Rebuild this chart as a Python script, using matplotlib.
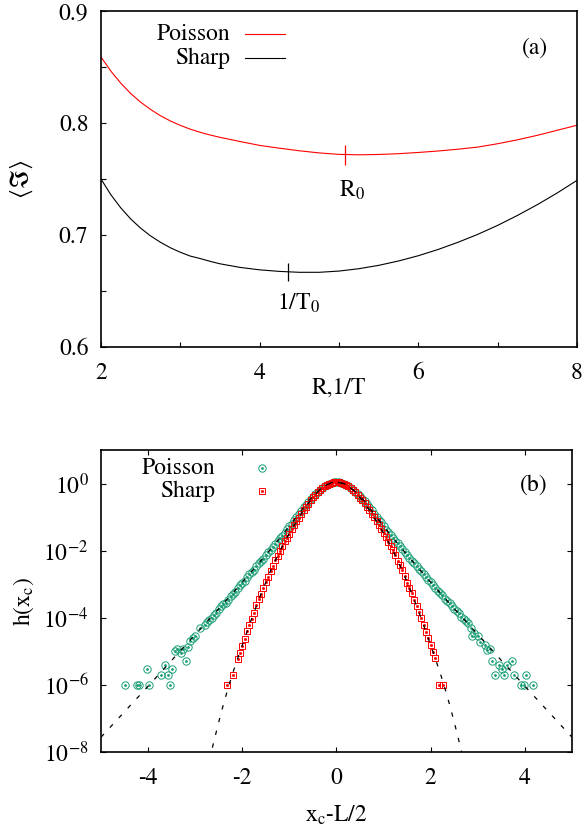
import numpy as np
import matplotlib
matplotlib.use("Agg")
import matplotlib.pyplot as plt
from matplotlib.ticker import MultipleLocator, FixedLocator, FuncFormatter, NullLocator

plt.rcParams['font.family'] = ['STIXGeneral', 'DejaVu Serif']
plt.rcParams['mathtext.fontset'] = 'stix'
plt.rcParams['axes.unicode_minus'] = False
plt.rcParams['font.size'] = 17

# ---- panel (a): mean value vs R (Poisson) and 1/T (sharp) ----
r_vals = [2.0, 2.125, 2.25, 2.375, 2.5, 2.625, 2.75, 2.875, 3.0, 3.125, 3.25, 3.375, 3.5,
          3.75, 4.0, 4.25, 4.5, 4.75, 5.0, 5.25, 5.5, 5.75, 6.0, 6.25, 6.5, 6.75,
          7.0, 7.25, 7.5, 7.75, 8.0]
poisson_avg = [0.859, 0.8463, 0.8355, 0.8263, 0.8186, 0.8121, 0.8065, 0.8018, 0.7979,
               0.7945, 0.7917, 0.7893, 0.7872, 0.7835, 0.7800, 0.7775, 0.7752, 0.7733,
               0.7720, 0.7716, 0.7719, 0.7726, 0.7737, 0.7750, 0.7766, 0.7785, 0.7815,
               0.7850, 0.7890, 0.7935, 0.7980]
sharp_avg = [0.750, 0.7359, 0.7242, 0.7143, 0.7061, 0.6992, 0.6935, 0.6886, 0.6846,
             0.6812, 0.6790, 0.6765, 0.6743, 0.6711, 0.6689, 0.6675, 0.6667, 0.6667,
             0.6678, 0.6699, 0.6729, 0.6768, 0.6815, 0.6871, 0.6935, 0.7006, 0.7086,
             0.7175, 0.7271, 0.7375, 0.7488]
r0, r0_val = 5.08, 0.7716
inv_t0, inv_t0_val = 4.36, 0.667

# ---- panel (b): distribution h(x_c), stored as log10 values ----
pois_x = [-4.49, -4.24, -4.19, -4.03, -3.98, -3.73, -3.64, -3.57, -3.53, -3.49,
          -3.43, -3.38, -3.30, -3.25, -3.20, -3.15, -3.10, -3.05, -3.00, -2.90,
          -2.8, -2.7, -2.6, -2.5, -2.4, -2.3, -2.2, -2.1, -2.0, -1.9,
          -1.8, -1.7, -1.6, -1.5, -1.4, -1.3, -1.2, -1.1, -1.0, -0.9,
          -0.8, -0.7, -0.6, -0.5, -0.4, -0.3, -0.2, -0.1, 0.0, 0.1,
          0.2, 0.3, 0.4, 0.5, 0.6, 0.7, 0.8, 0.9, 1.0, 1.1,
          1.2, 1.3, 1.4, 1.5, 1.6, 1.7, 1.8, 1.9, 2.0, 2.1,
          2.2, 2.3, 2.4, 2.5, 2.6, 2.7, 2.8, 2.85, 2.87, 2.92,
          3.00, 3.05, 3.15, 3.20, 3.25, 3.31, 3.37, 3.44, 3.51, 3.56,
          3.61, 3.72, 3.77, 3.92, 3.98, 4.02, 4.17]
pois_logh = [-6.00, -6.00, -6.00, -5.52, -6.00, -5.70, -5.40, -5.70, -6.00, -5.52,
             -5.00, -4.92, -5.05, -4.92, -5.30, -4.88, -4.70, -4.60, -4.55, -4.32,
             -4.22, -4.08, -3.93, -3.75, -3.60, -3.46, -3.30, -3.12, -2.97, -2.80,
             -2.64, -2.47, -2.31, -2.14, -1.97, -1.80, -1.63, -1.46, -1.28, -1.10,
             -0.92, -0.71, -0.54, -0.39, -0.25, -0.13, -0.04, 0.02, 0.05, 0.03,
             -0.03, -0.12, -0.24, -0.38, -0.53, -0.70, -0.90, -1.08, -1.26, -1.45,
             -1.62, -1.78, -1.95, -2.12, -2.30, -2.45, -2.61, -2.79, -2.93, -3.11,
             -3.25, -3.43, -3.56, -3.74, -3.86, -4.05, -4.17, -4.30, -4.55, -4.45,
             -4.55, -4.72, -4.82, -4.96, -4.92, -5.30, -5.70, -5.40, -5.52, -5.70,
             -5.40, -5.30, -5.70, -6.00, -6.00, -5.70, -6.00]
# bins lying between the ones above
pois_x_mid = [-2.75, -2.65, -2.55, -2.45, -2.35, -2.25, -2.15, -2.05, -1.95, -1.85,
              -1.75, -1.65, -1.55, -1.45, -1.35, -1.25, -1.15, -1.05, -0.95, -0.85,
              -0.75, -0.65, -0.55, -0.45, -0.35, -0.25, -0.15, -0.05, 0.05, 0.15,
              0.25, 0.35, 0.45, 0.55, 0.65, 0.75, 0.85, 0.95, 1.05, 1.15,
              1.25, 1.35, 1.45, 1.55, 1.65, 1.75, 1.85, 1.95, 2.05, 2.15,
              2.25, 2.35, 2.45, 2.55, 2.65, 2.75]
pois_logh_mid = [-4.13, -4.00, -3.85, -3.66, -3.55, -3.36, -3.22, -3.03, -2.90, -2.71,
                 -2.57, -2.38, -2.24, -2.05, -1.90, -1.71, -1.55, -1.36, -1.20, -1.00,
                 -0.82, -0.63, -0.46, -0.32, -0.19, -0.08, -0.01, 0.04, 0.05, 0.00,
                 -0.07, -0.18, -0.31, -0.45, -0.62, -0.80, -0.99, -1.16, -1.37, -1.53,
                 -1.71, -1.86, -2.04, -2.22, -2.37, -2.54, -2.69, -2.87, -3.01, -3.20,
                 -3.33, -3.50, -3.66, -3.80, -3.97, -4.10]

sharp_x = [-2.33, -2.2, -2.1, -2.0, -1.9, -1.8, -1.7, -1.6, -1.5, -1.4,
           -1.3, -1.2, -1.1, -1.0, -0.9, -0.8, -0.7, -0.6, -0.5, -0.4,
           -0.3, -0.2, -0.1, 0.0, 0.1, 0.2, 0.3, 0.4, 0.5, 0.6,
           0.7, 0.8, 0.9, 1.0, 1.1, 1.2, 1.3, 1.4, 1.5, 1.6,
           1.7, 1.8, 1.9, 2.0, 2.1, 2.18, 2.27]
sharp_logh = [-6.00, -5.70, -5.22, -4.85, -4.40, -4.05, -3.62, -3.30, -2.92, -2.62,
              -2.28, -2.01, -1.72, -1.49, -1.23, -1.02, -0.78, -0.60, -0.40, -0.26,
              -0.12, -0.04, 0.03, 0.05, 0.02, -0.03, -0.13, -0.25, -0.42, -0.58,
              -0.80, -1.00, -1.25, -1.47, -1.74, -1.99, -2.30, -2.59, -2.95, -3.26,
              -3.66, -4.00, -4.43, -4.80, -5.20, -6.00, -6.00]
sharp_x_mid = [-2.05, -1.95, -1.85, -1.75, -1.65, -1.55, -1.45, -1.35, -1.25, -1.15,
               -1.05, -0.95, -0.85, -0.75, -0.65, -0.55, -0.45, -0.35, -0.25, -0.15,
               -0.05, 0.05, 0.15, 0.25, 0.35, 0.45, 0.55, 0.65, 0.75, 0.85,
               0.95, 1.05, 1.15, 1.25, 1.35, 1.45, 1.55, 1.65, 1.75, 1.85,
               1.95, 2.05]
sharp_logh_mid = [-5.05, -4.62, -4.22, -3.85, -3.45, -3.11, -2.78, -2.45, -2.15, -1.86,
                  -1.61, -1.36, -1.12, -0.90, -0.69, -0.50, -0.33, -0.19, -0.08, 0.00,
                  0.05, 0.04, -0.01, -0.08, -0.18, -0.34, -0.50, -0.70, -0.90, -1.13,
                  -1.36, -1.60, -1.87, -2.14, -2.44, -2.77, -3.10, -3.47, -3.83, -4.22,
                  -4.60, -5.02]

pois_fit_x = [-5.0, -4.5, -4.0, -3.5, -3.0, -2.5, -2.0, -1.5, -1.2, -1.0, -0.8, -0.6,
              -0.5, -0.4, -0.3, -0.2, -0.1, 0.0, 0.1, 0.2, 0.3, 0.4, 0.5, 0.6,
              0.8, 1.0, 1.2, 1.5, 2.0, 2.5, 3.0, 3.5, 4.0, 4.5, 5.0]
pois_fit_logh = [-7.56, -6.80, -6.04, -5.27, -4.50, -3.73, -2.94, -2.13, -1.62, -1.27,
                 -0.91, -0.53, -0.38, -0.24, -0.12, -0.03, 0.03, 0.05, 0.03, -0.03,
                 -0.12, -0.24, -0.38, -0.53, -0.91, -1.27, -1.62, -2.13, -2.94, -3.73,
                 -4.50, -5.27, -6.04, -6.80, -7.56]
sharp_fit_x = [-2.7, -2.6, -2.5, -2.4, -2.3, -2.2, -2.1, -2.0, -1.8, -1.6, -1.4, -1.2,
               -1.0, -0.8, -0.6, -0.4, -0.2, 0.0, 0.2, 0.4, 0.6, 0.8, 1.0, 1.2,
               1.4, 1.6, 1.8, 2.0, 2.1, 2.2, 2.3, 2.4, 2.5, 2.6, 2.7]
sharp_fit_logh = [-8.25, -7.67, -7.11, -6.58, -6.09, -5.64, -5.22, -4.82, -4.02, -3.28,
                  -2.60, -2.00, -1.48, -1.01, -0.59, -0.25, -0.03, 0.05, -0.03, -0.25,
                  -0.59, -1.01, -1.48, -2.00, -2.60, -3.28, -4.02, -4.82, -5.22, -5.64,
                  -6.09, -6.58, -7.11, -7.67, -8.25]

GREEN = '#1b9e77'
RED = '#ff0000'
FS = 17


def style_axes(ax, mirror):
    for sp in ax.spines.values():
        sp.set_linewidth(1.2)
    ax.tick_params(which='both', direction='in', length=3.6, width=0.8,
                   top=mirror, right=mirror, labelsize=FS)
    ax.tick_params(axis='y', pad=9)
    ax.tick_params(axis='x', pad=11)


def open_points(ax, x, y, marker, ms, color, **kw):
    # gnuplot draws open symbols with a small dot in the middle
    ax.plot(x, y, ls='none', marker=marker, ms=ms, mfc='none', mec=color, mew=0.7, **kw)
    ax.plot(x, y, ls='none', marker=marker, ms=1.0, color=color, **kw)


fig = plt.figure(figsize=(5.83, 8.27), dpi=100)

# ---------------- (a) ----------------
ax1 = fig.add_axes([0.1732, 0.5804, 0.8165, 0.4063])
ax1.plot(r_vals, poisson_avg, color=RED, lw=0.8)
ax1.plot(r_vals, sharp_avg, color='black', lw=0.8)
ax1.plot([r0], [r0_val], marker='|', ms=14, mew=0.9, color=RED)
ax1.plot([inv_t0], [inv_t0_val], marker='|', ms=13, mew=0.9, color='black')
ax1.text(5.0, 0.734, r'R$_0$', ha='left', va='baseline', fontsize=FS)
ax1.text(4.22, 0.633, r'1/T$_0$', ha='left', va='baseline', fontsize=FS)
ax1.text(7.47, 0.867, '(a)', ha='center', va='center', fontsize=FS)
ax1.set_xlim(2, 8)
ax1.set_ylim(0.6, 0.9)
ax1.xaxis.set_major_locator(MultipleLocator(2))
ax1.xaxis.set_minor_locator(MultipleLocator(1))
ax1.yaxis.set_major_locator(MultipleLocator(0.1))
ax1.yaxis.set_minor_locator(MultipleLocator(0.05))
ax1.yaxis.set_major_formatter(FuncFormatter(lambda v, p: f'{v:.1f}'))
style_axes(ax1, mirror=False)
ax1.set_xlabel('R,1/T', fontsize=FS)
ax1.xaxis.set_label_coords(0.5, -0.09)
ax1.set_ylabel(r'$\langle\Im\rangle$', fontsize=18)
ax1.yaxis.set_label_coords(-0.139, 0.5)

ax1.text(0.271, 0.9315, 'Poisson', transform=ax1.transAxes, ha='right', va='center', fontsize=FS)
ax1.text(0.271, 0.860, 'Sharp', transform=ax1.transAxes, ha='right', va='center', fontsize=FS)
ax1.plot([0.3025, 0.3866], [0.9315, 0.9315], transform=ax1.transAxes, color=RED, lw=0.8)
ax1.plot([0.3025, 0.3866], [0.860, 0.860], transform=ax1.transAxes, color='black', lw=0.8)

# ---------------- (b) ----------------
ax2 = fig.add_axes([0.1732, 0.0907, 0.8079, 0.3652])
open_points(ax2, pois_x + pois_x_mid, 10 ** np.array(pois_logh + pois_logh_mid),
            'o', 5.3, GREEN, zorder=2)
open_points(ax2, sharp_x + sharp_x_mid, 10 ** np.array(sharp_logh + sharp_logh_mid),
            's', 4.8, RED, zorder=2)
ax2.plot(pois_fit_x, 10 ** np.array(pois_fit_logh), color='black', lw=0.9,
         ls=(0, (3.5, 7)), zorder=3)
ax2.plot(sharp_fit_x, 10 ** np.array(sharp_fit_logh), color='black', lw=0.9,
         ls=(0, (3.5, 7)), zorder=3)
ax2.set_yscale('log')
ax2.set_xlim(-5, 5)
ax2.set_ylim(1e-8, 10)
ax2.xaxis.set_major_locator(MultipleLocator(2))
ax2.xaxis.set_minor_locator(NullLocator())
ax2.yaxis.set_major_locator(FixedLocator([1e-8, 1e-6, 1e-4, 1e-2, 1e0]))
ax2.yaxis.set_minor_locator(NullLocator())
ax2.yaxis.set_major_formatter(FuncFormatter(
    lambda v, p: r'$\mathregular{10^{%d}}$' % int(round(np.log10(v)))))
style_axes(ax2, mirror=True)
ax2.set_xlabel(r'x$_\mathregular{c}$-L/2', fontsize=FS)
ax2.xaxis.set_label_coords(0.5, -0.172)
ax2.set_ylabel(r'h(x$_\mathregular{c}$)', fontsize=FS)
ax2.yaxis.set_label_coords(-0.138, 0.5)
ax2.text(0.919, 0.884, '(b)', transform=ax2.transAxes, ha='center', va='center', fontsize=FS)

ax2.text(0.242, 0.940, 'Poisson', transform=ax2.transAxes, ha='right', va='center', fontsize=FS)
ax2.text(0.242, 0.864, 'Sharp', transform=ax2.transAxes, ha='right', va='center', fontsize=FS)
open_points(ax2, [0.342], [0.940], 'o', 5.3, GREEN, transform=ax2.transAxes)
open_points(ax2, [0.342], [0.864], 's', 4.8, RED, transform=ax2.transAxes)

fig.savefig('out.png', dpi=100)
